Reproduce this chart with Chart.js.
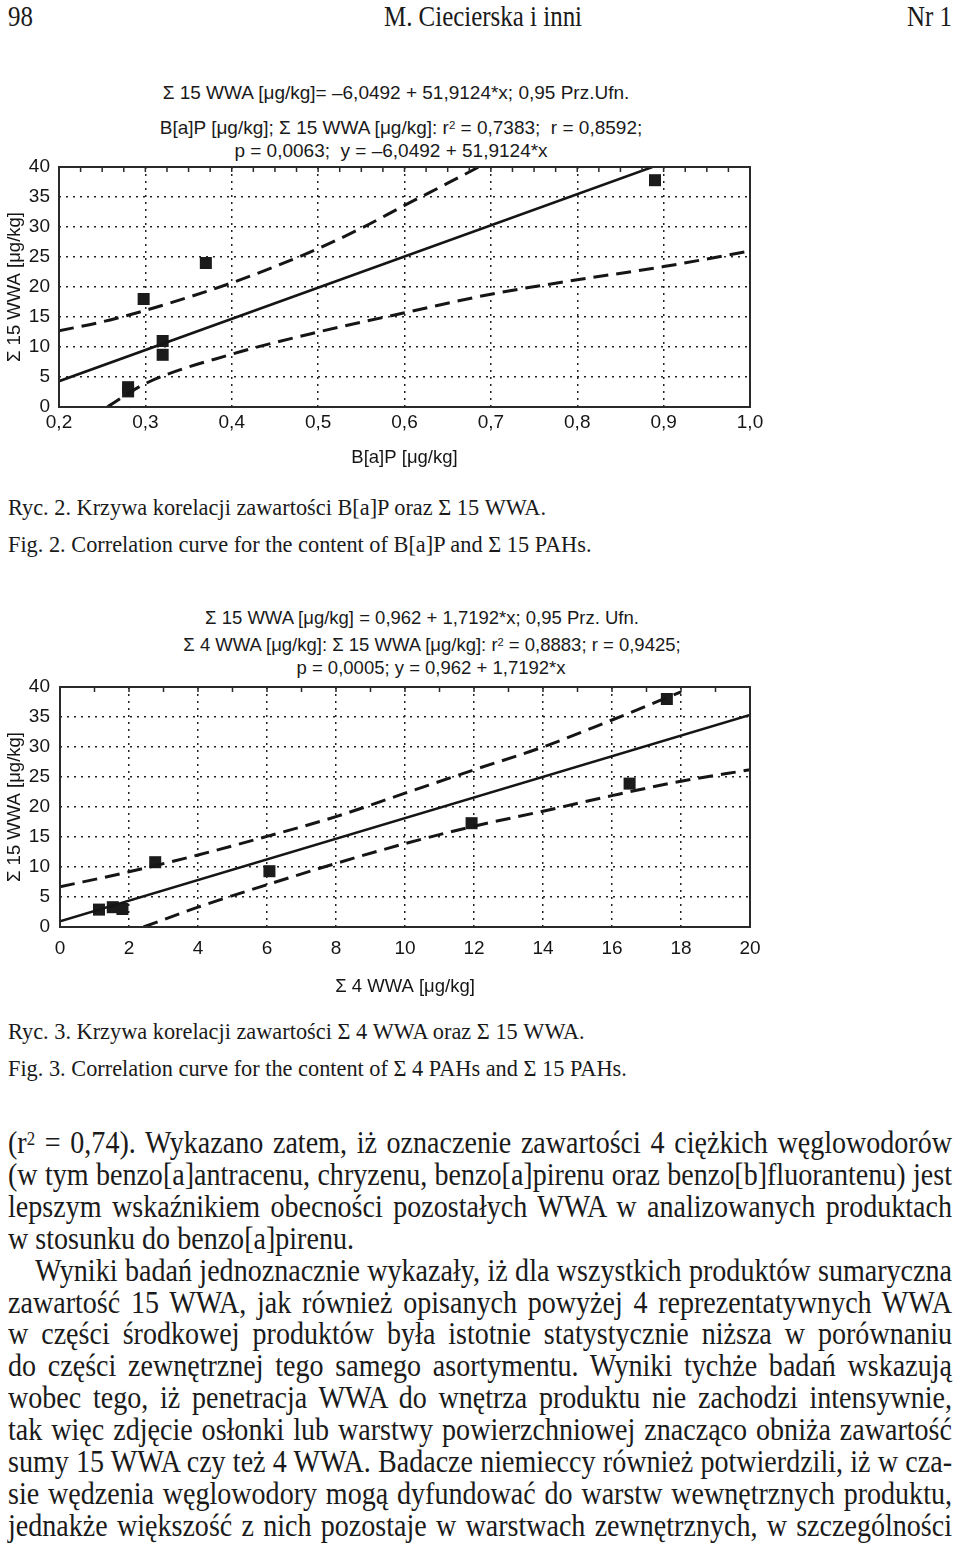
<!DOCTYPE html>
<html lang="pl">
<head>
<meta charset="utf-8">
<script src="https://cdn.jsdelivr.net/npm/chart.js@4.4.1/dist/chart.umd.min.js"></script>
<style>
  body { margin: 0; width: 960px; height: 1547px; background: #fff; position: relative; overflow: hidden; color: #1a1a1a; }
  .serif { font-family: 'Liberation Serif', 'Times New Roman', serif; position: absolute; white-space: nowrap; line-height: 1; transform-origin: 0 0; }
  .sans { font-family: 'Liberation Sans', Arial, sans-serif; position: absolute; white-space: nowrap; font-size: 18.5px; line-height: 1; width: 1000px; text-align: center; }
  .t1 { font-size: 19px; }
  .sup { font-size: 0.6em; position: relative; top: -0.45em; }
  canvas { position: absolute; left: 0; }
</style>
</head>
<body>
<div class="serif" style="left:8px;top:2px;font-size:29px;transform:scaleX(0.86)">98</div>
<div class="serif" style="left:0;top:2px;width:966px;text-align:center;font-size:29px;transform:scaleX(0.86);transform-origin:483px 0">M. Ciecierska i inni</div>
<div class="serif" style="left:0;top:2px;width:952px;text-align:right;font-size:29px;transform:scaleX(0.86);transform-origin:952px 0">Nr 1</div>

<div class="sans t1" style="left:-104px;top:83px">Σ 15 WWA [μg/kg]= –6,0492 + 51,9124*x; 0,95 Prz.Ufn.</div>
<div class="sans t1" style="left:-99px;top:118px">B[a]P [μg/kg]; Σ 15 WWA [μg/kg]: r<span class="sup">2</span> = 0,7383;&nbsp; r = 0,8592;</div>
<div class="sans t1" style="left:-109px;top:141px">p = 0,0063;&nbsp; y = –6,0492 + 51,9124*x</div>
<canvas id="chart1" width="790" height="420" style="top:60px"></canvas>

<div class="serif" style="left:8px;top:495px;font-size:24px;transform:scaleX(0.93)">Ryc. 2. Krzywa korelacji zawartości B[a]P oraz Σ 15 WWA.</div>
<div class="serif" style="left:8px;top:532px;font-size:24px;transform:scaleX(0.93)">Fig. 2. Correlation curve for the content of B[a]P and Σ 15 PAHs.</div>

<div class="sans" style="left:-78px;top:609px">Σ 15 WWA [μg/kg] = 0,962 + 1,7192*x; 0,95 Prz. Ufn.</div>
<div class="sans" style="left:-68px;top:636px">Σ 4 WWA [μg/kg]: Σ 15 WWA [μg/kg]: r<span class="sup">2</span> = 0,8883; r = 0,9425;</div>
<div class="sans" style="left:-69px;top:659px">p = 0,0005; y = 0,962 + 1,7192*x</div>
<canvas id="chart2" width="790" height="430" style="top:580px"></canvas>

<div class="serif" style="left:8px;top:1019px;font-size:24px;transform:scaleX(0.93)">Ryc. 3. Krzywa korelacji zawartości Σ 4 WWA oraz Σ 15 WWA.</div>
<div class="serif" style="left:8px;top:1056px;font-size:24px;transform:scaleX(0.93)">Fig. 3. Correlation curve for the content of Σ 4 PAHs and Σ 15 PAHs.</div>

<div id="body"></div>

<script>
// Ryc. 2: B[a]P vs sum of 15 WWA
const bapX = [0.28, 0.28, 0.298, 0.32, 0.32, 0.37, 0.89];
const bapY = [3.3, 2.6, 18.0, 11.0, 8.7, 24.0, 37.8];
const fitBapX = [0.2, 0.887];
const fitBapY = [4.3, 40];
const upperBapX = [0.2, 0.25, 0.3, 0.35, 0.4, 0.45, 0.5, 0.55, 0.6, 0.65, 0.69];
const upperBapY = [12.7, 14.2, 16.1, 18.3, 20.7, 23.4, 26.4, 29.8, 33.6, 37.3, 40.3];
const lowerBapX = [0.256, 0.3, 0.4, 0.5, 0.6, 0.7, 0.8, 0.9, 1.0];
const lowerBapY = [0, 3.9, 8.8, 12.5, 15.7, 18.8, 21.2, 23.4, 26.0];

// Ryc. 3: sum of 4 WWA vs sum of 15 WWA
const wwa4X = [1.13, 1.53, 1.81, 2.76, 6.07, 11.93, 16.51, 17.59];
const wwa4Y = [2.9, 3.3, 3.0, 10.8, 9.3, 17.3, 23.9, 38.0];
const fitWwaX = [0, 20];
const fitWwaY = [0.96, 35.35];
const upperWwaX = [0, 2, 4, 6, 8, 10, 12, 14, 16, 18];
const upperWwaY = [6.7, 9.2, 12.0, 15.1, 18.4, 22.3, 26.2, 30.0, 34.5, 39.2];
const lowerWwaX = [2.42, 4, 6, 8, 10, 12, 14, 16, 18, 20];
const lowerWwaY = [0, 3.3, 7.05, 10.6, 13.9, 16.8, 19.3, 21.9, 24.3, 26.2];

const yTicksMin = 0, yTicksMax = 40, yStep = 5;

const bodyLines = [
    ['(r<span class="sup">2</span> = 0,74). Wykazano zatem, iż oznaczenie zawartości 4 ciężkich węglowodorów', 8, true],
    ['(w tym benzo[a]antracenu, chryzenu, benzo[a]pirenu oraz benzo[b]fluorantenu) jest', 8, true],
    ['lepszym wskaźnikiem obecności pozostałych WWA w analizowanych produktach', 8, true],
    ['w stosunku do benzo[a]pirenu.', 8, false],
    ['Wyniki badań jednoznacznie wykazały, iż dla wszystkich produktów sumaryczna', 35, true],
    ['zawartość 15 WWA, jak również opisanych powyżej 4 reprezentatywnych WWA', 8, true],
    ['w części środkowej produktów była istotnie statystycznie niższa w porównaniu', 8, true],
    ['do części zewnętrznej tego samego asortymentu. Wyniki tychże badań wskazują', 8, true],
    ['wobec tego, iż penetracja WWA do wnętrza produktu nie zachodzi intensywnie,', 8, true],
    ['tak więc zdjęcie osłonki lub warstwy powierzchniowej znacząco obniża zawartość', 8, true],
    ['sumy 15 WWA czy też 4 WWA. Badacze niemieccy również potwierdzili, iż w cza-', 8, true],
    ['sie wędzenia węglowodory mogą dyfundować do warstw wewnętrznych produktu,', 8, true],
    ['jednakże większość z nich pozostaje w warstwach zewnętrznych, w szczególności', 8, true],
];

function toPoints(xs, ys) {
    return xs.map((x, i) => ({ x, y: ys[i] }));
}

function renderBody() {
    const holder = document.getElementById('body');
    const scale = 0.92;
    bodyLines.forEach(([html, left, justify], i) => {
        const el = document.createElement('div');
        el.className = 'serif';
        el.style.left = left + 'px';
        el.style.top = (1128.3 + i * 31.85) + 'px';
        el.style.fontSize = '30.5px';
        el.style.transform = `scaleX(${scale})`;
        el.innerHTML = html;
        holder.appendChild(el);
        if (justify) {
            const w = el.getBoundingClientRect().width;
            const spaces = (el.textContent.match(/ /g) || []).length;
            el.style.wordSpacing = ((952 - left - w) / spaces / scale) + 'px';
        }
    });
}

const framePlugin = {
    id: 'frame',
    afterDatasetsDraw(chart, args, opts) {
        const { ctx, chartArea: a, scales: { x } } = chart;
        ctx.save();
        ctx.strokeStyle = '#2a2a2a';
        ctx.lineWidth = 1.5;
        ctx.beginPath();
        const n = Math.round((x.max - x.min) / opts.minorStep);
        for (let i = 0; i <= n; i++) {
            const px = x.getPixelForValue(x.min + i * opts.minorStep);
            ctx.moveTo(px, a.top);
            ctx.lineTo(px, a.top + 5);
        }
        ctx.stroke();
        ctx.lineWidth = 2;
        ctx.strokeRect(a.left, a.top, a.right - a.left, a.bottom - a.top);
        ctx.restore();
    }
};

function renderChart(id, cfg) {
    const ink = '#151515';
    const datasets = [
        { data: toPoints(cfg.upperX, cfg.upperY), showLine: true, pointRadius: 0, borderColor: ink, borderWidth: 3, borderDash: [15, 8], cubicInterpolationMode: 'monotone' },
        { data: toPoints(cfg.lowerX, cfg.lowerY), showLine: true, pointRadius: 0, borderColor: ink, borderWidth: 3, borderDash: [15, 8], cubicInterpolationMode: 'monotone' },
        { data: toPoints(cfg.fitX, cfg.fitY), showLine: true, pointRadius: 0, borderColor: ink, borderWidth: 2.5 },
        { data: toPoints(cfg.pointsX, cfg.pointsY), showLine: false, pointStyle: 'rect', pointRadius: 8.5, backgroundColor: '#1b1b1b', borderWidth: 0 },
    ];
    return new Chart(document.getElementById(id), {
        type: 'scatter',
        data: { datasets },
        plugins: [framePlugin],
        options: {
            responsive: false,
            animation: false,
            events: [],
            layout: { padding: { top: 107, right: 40, left: 0, bottom: cfg.padBottom } },
            plugins: {
                legend: { display: false },
                tooltip: { enabled: false },
                frame: { minorStep: cfg.minorStep },
            },
            scales: {
                x: {
                    type: 'linear',
                    min: cfg.xMin,
                    max: cfg.xMax,
                    afterFit: scale => { scale.height = cfg.xHeight; },
                    ticks: {
                        stepSize: cfg.xStep,
                        padding: cfg.xTickPad,
                        color: ink,
                        font: { family: "'Liberation Sans', Arial, sans-serif", size: 19 },
                        callback: cfg.xFormat,
                    },
                    grid: { color: '#222', lineWidth: 1.5, drawTicks: false, tickLength: 0 },
                    border: { display: false, dash: [2, 5] },
                    title: {
                        display: true,
                        text: cfg.xTitle,
                        color: ink,
                        font: { family: "'Liberation Sans', Arial, sans-serif", size: 18.5 },
                        padding: { top: 0, bottom: 0 },
                    },
                },
                y: {
                    type: 'linear',
                    min: yTicksMin,
                    max: yTicksMax,
                    afterFit: scale => { scale.width = cfg.yWidth; },
                    ticks: {
                        stepSize: yStep,
                        padding: cfg.yTickPad,
                        color: ink,
                        font: { family: "'Liberation Sans', Arial, sans-serif", size: 19 },
                    },
                    grid: { color: '#222', lineWidth: 1.5, drawTicks: false, tickLength: 0 },
                    border: { display: false, dash: [2, 5] },
                    title: {
                        display: true,
                        text: 'Σ 15 WWA [μg/kg]',
                        color: ink,
                        font: { family: "'Liberation Sans', Arial, sans-serif", size: 18.5 },
                        padding: { top: 4, bottom: 0 },
                    },
                },
            },
        },
    });
}

renderChart('chart1', {
    pointsX: bapX, pointsY: bapY,
    fitX: fitBapX, fitY: fitBapY,
    upperX: upperBapX, upperY: upperBapY,
    lowerX: lowerBapX, lowerY: lowerBapY,
    xMin: 0.2, xMax: 1.0, xStep: 0.1, minorStep: 0.025,
    xFormat: v => v.toFixed(1).replace('.', ','),
    xTitle: 'B[a]P [μg/kg]',
    xTickPad: 4, xHeight: 62, yWidth: 59, yTickPad: 9, padBottom: 11,
});

renderChart('chart2', {
    pointsX: wwa4X, pointsY: wwa4Y,
    fitX: fitWwaX, fitY: fitWwaY,
    upperX: upperWwaX, upperY: upperWwaY,
    lowerX: lowerWwaX, lowerY: lowerWwaY,
    xMin: 0, xMax: 20, xStep: 2, minorStep: 1,
    xFormat: v => String(v),
    xTitle: 'Σ 4 WWA [μg/kg]',
    xTickPad: 10, xHeight: 71, yWidth: 60, yTickPad: 10, padBottom: 12,
});

renderBody();
</script>
</body>
</html>
